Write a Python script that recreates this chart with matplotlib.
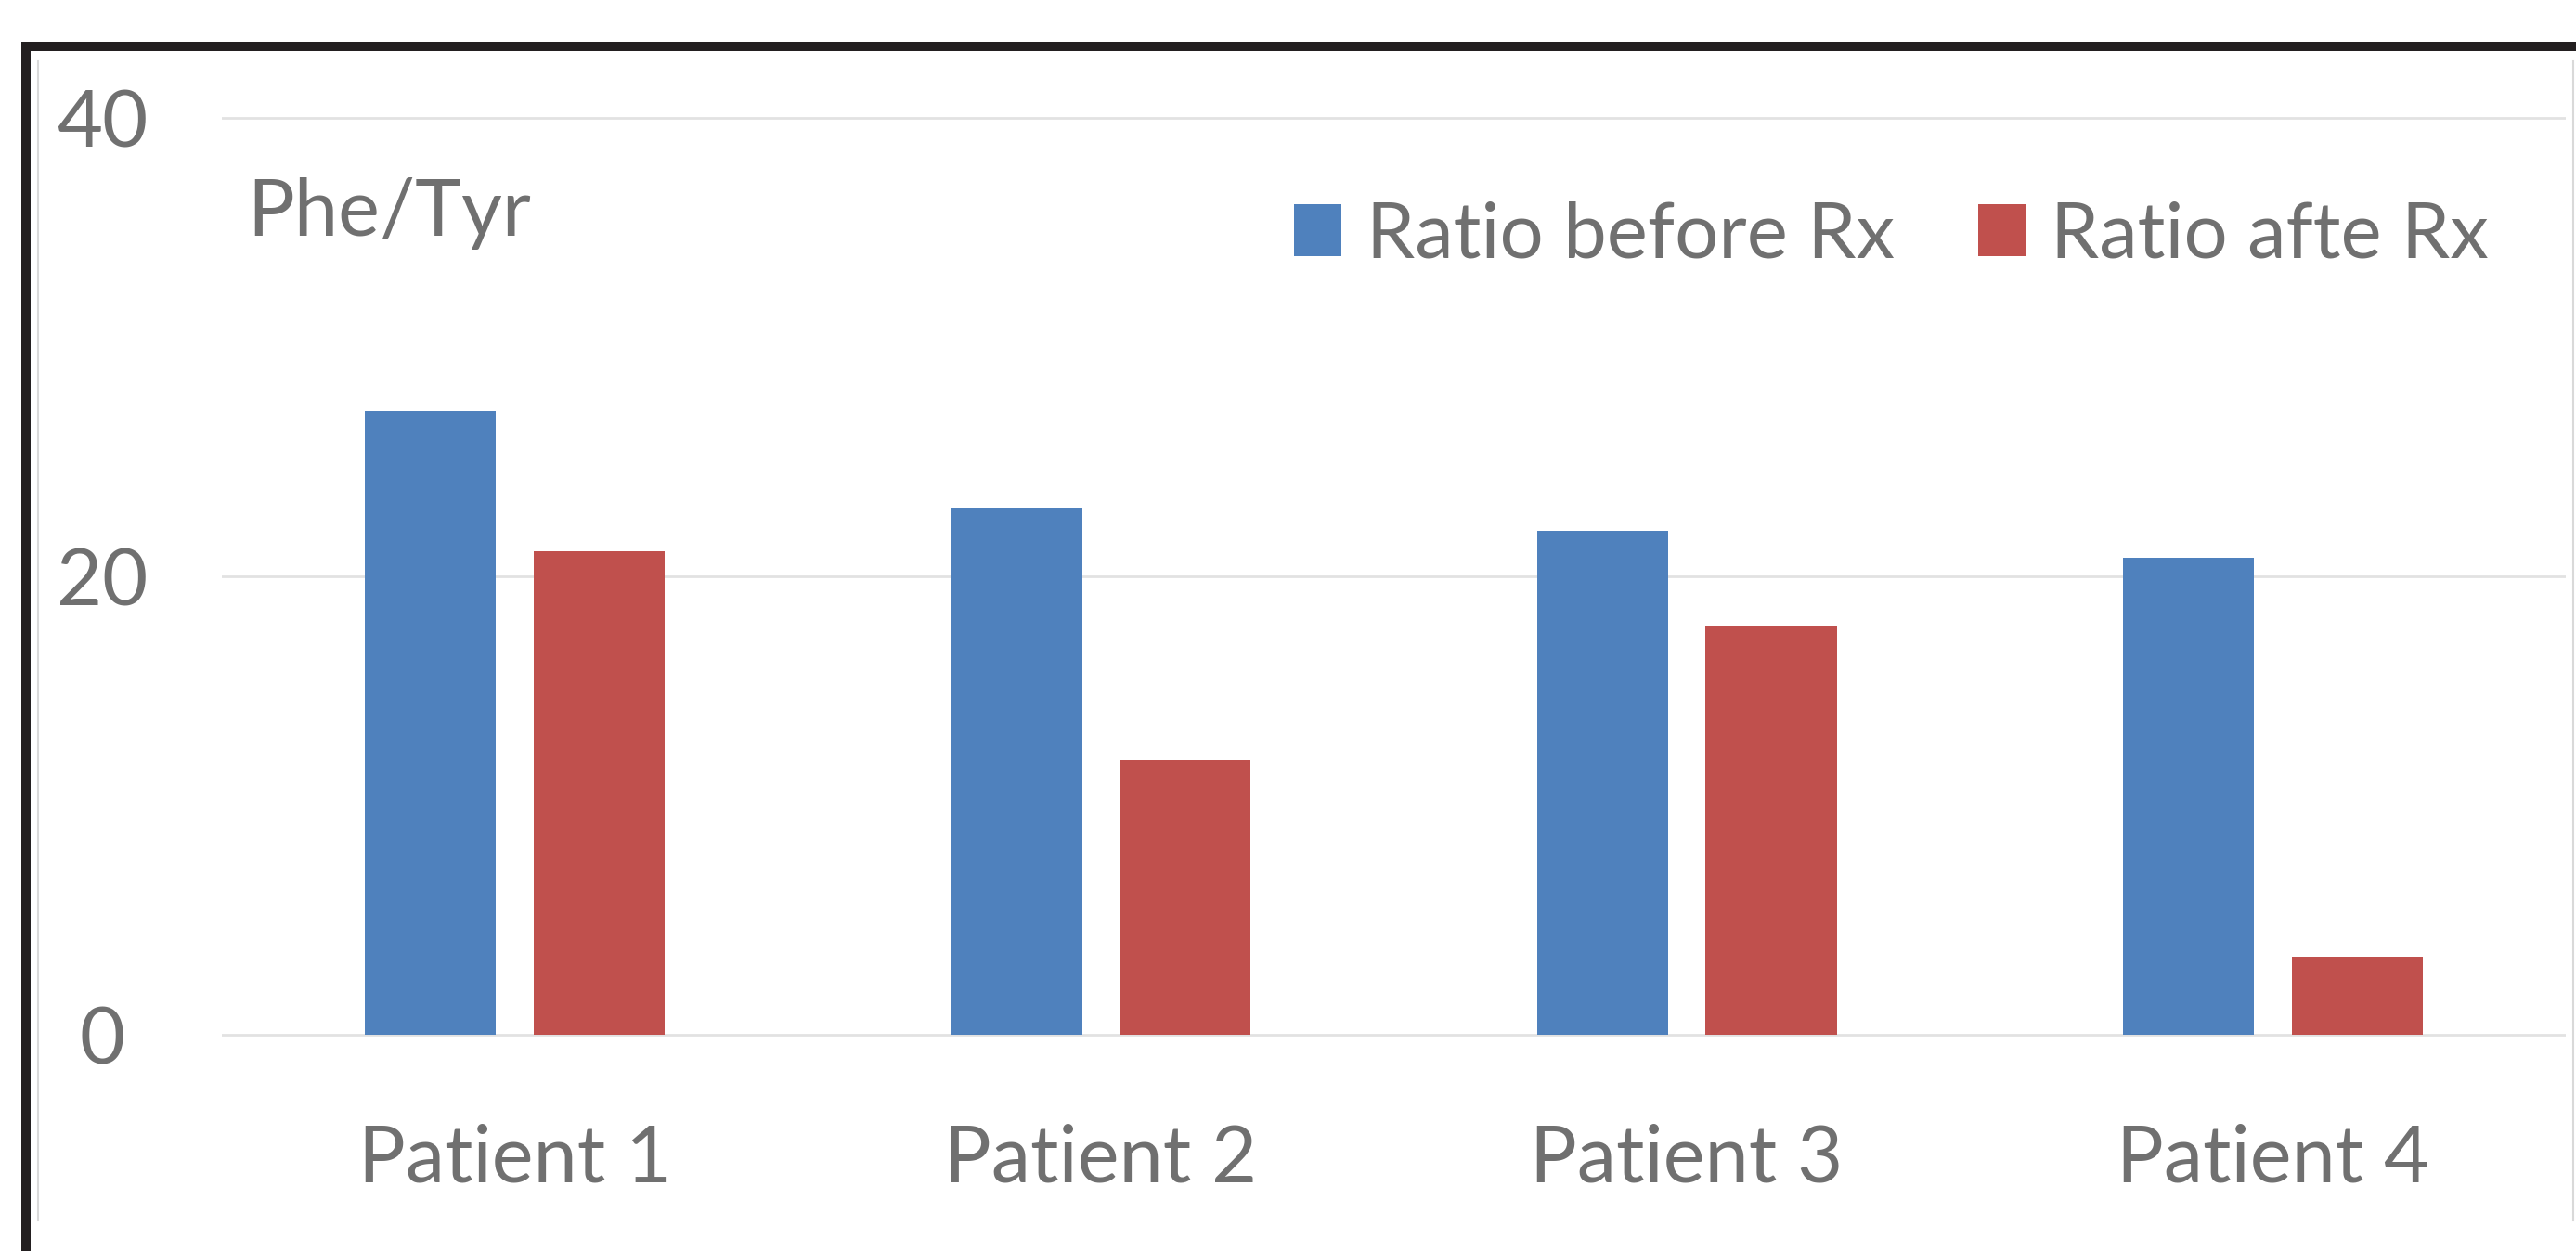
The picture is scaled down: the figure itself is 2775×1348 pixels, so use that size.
import matplotlib
matplotlib.use("Agg")
import matplotlib.pyplot as plt
from matplotlib.patches import Patch, Rectangle
from matplotlib.lines import Line2D
import numpy as np

# Phe/Tyr ratio per patient, before and after treatment
patients = ["Patient 1", "Patient 2", "Patient 3", "Patient 4"]
ratio_before = [27.2, 23.0, 22.0, 20.8]
ratio_after = [21.1, 12.0, 17.8, 3.4]
y_ticks = [0, 20, 40]
series_labels = ["Ratio before Rx", "Ratio afte Rx"]
y_title = "Phe/Tyr"

W, H = 2775, 1348
DPI = 100
FONT = "Lato"
TEXT = "#707070"
BLUE = "#4F81BD"
RED = "#C0504D"
GRID = "#E2E2E2"
FS = 61
FS_LEG = 60
FS_LEG_PX = FS_LEG * DPI / 72

plt.rcParams["font.family"] = [FONT, "DejaVu Sans"]

fig = plt.figure(figsize=(W / DPI, H / DPI), dpi=DPI)
fig.patch.set_facecolor("white")

# plot area: y=0 at 1115 px, y=40 at 127 px (from top); a little room above/below
px_per_unit = (1115 - 127) / 40.0
y_lo, y_hi = -1.0, 41.0
ax_top = 127 - (y_hi - 40) * px_per_unit
ax_bot = 1115 + (0 - y_lo) * px_per_unit
ax_left, ax_right = 239, 2764
ax = fig.add_axes([ax_left / W, 1 - ax_bot / H, (ax_right - ax_left) / W, (ax_bot - ax_top) / H])
ax.set_facecolor("none")

x = np.arange(len(patients))
bw = 0.224
off = 0.144
ax.bar(x - off, ratio_before, bw, color=BLUE, zorder=3)
ax.bar(x + off, ratio_after, bw, color=RED, zorder=3)

ax.set_xlim(-0.5, 3.5)
ax.set_ylim(y_lo, y_hi)
ax.set_yticks(y_ticks)
ax.set_yticklabels([str(t) for t in y_ticks])
ax.set_xticks(x)
ax.set_xticklabels(patients)
ax.yaxis.grid(True, color=GRID, linewidth=2.0, zorder=0)
ax.set_axisbelow(True)
for s in ax.spines.values():
    s.set_visible(False)

ax.tick_params(axis="both", length=0, colors=TEXT, labelsize=FS)
ax.tick_params(axis="y", pad=(ax_left - 110) * 72 / DPI)
ax.tick_params(axis="x", pad=(1211 - ax_bot) * 72 / DPI)
for lab in ax.get_yticklabels():
    lab.set_horizontalalignment("center")

# legend in the upper right of the plot area
handles = [Patch(facecolor=BLUE, edgecolor="none"), Patch(facecolor=RED, edgecolor="none")]
leg = ax.legend(handles, series_labels, ncol=2, loc="upper right",
                bbox_to_anchor=(2681 / W, 1 - 216 / H), bbox_transform=fig.transFigure,
                frameon=False, fontsize=FS_LEG, handlelength=51 / FS_LEG_PX,
                handleheight=55 / FS_LEG_PX, handletextpad=27 / FS_LEG_PX,
                columnspacing=90 / FS_LEG_PX, borderpad=0, borderaxespad=0)
for t in leg.get_texts():
    t.set_color(TEXT)

# axis caption
fig.text(266 / W, 1 - 230 / H, y_title, ha="left", va="center", fontsize=FS, color=TEXT)

# outer black frame (runs off the right and bottom edges)
fig.add_artist(Rectangle((28 / W, -0.1), 1.2, (1 - 50 / H) + 0.1, transform=fig.transFigure,
                         facecolor="none", edgecolor="#231F20", linewidth=10 * 72 / DPI))
# thin grey chart border
for xp in (41, 2772):
    fig.add_artist(Line2D([xp / W, xp / W], [1 - 66 / H, 1 - 1315 / H], transform=fig.transFigure,
                          color="#D9D9D9", linewidth=1.5))

fig.savefig("out.png", dpi=DPI)
